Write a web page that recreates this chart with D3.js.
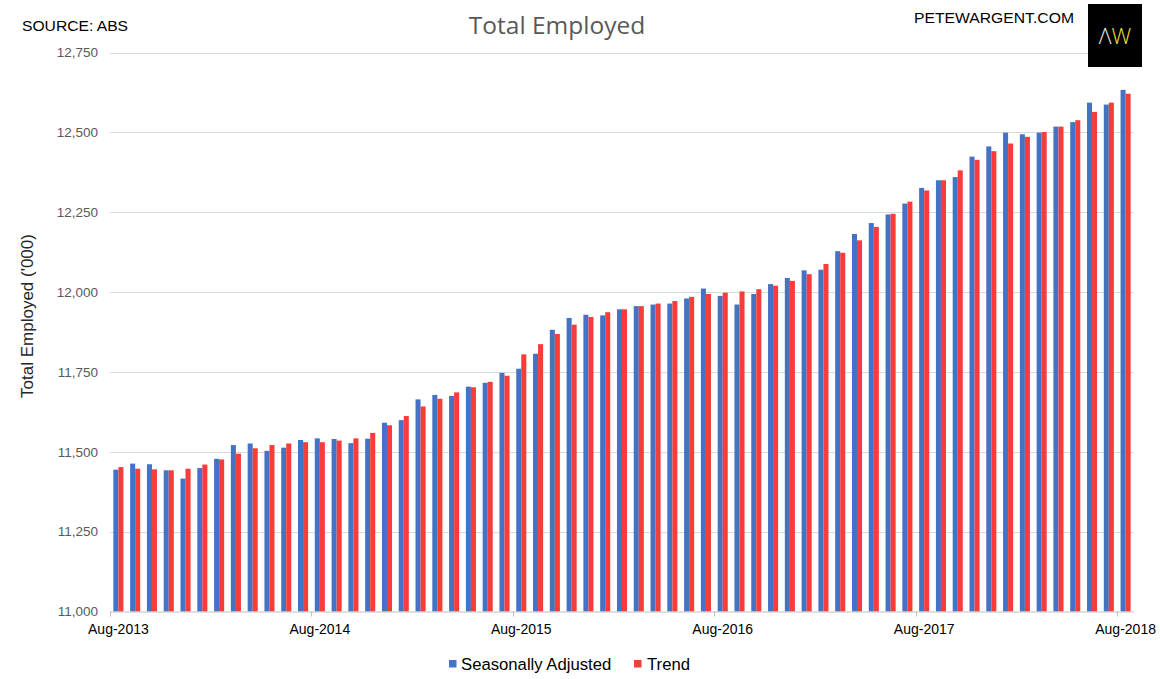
<!DOCTYPE html>
<html>
<head>
<meta charset="utf-8">
<script src="https://cdn.jsdelivr.net/npm/d3@7"></script>
<style>
  html, body { margin: 0; padding: 0; background: #fff; }
  svg { display: block; }
</style>
</head>
<body>
<svg id="chart" width="1160" height="679"></svg>
<script>
// ---- Data ----
const categories = [
  "Aug-2013","Sep-2013","Oct-2013","Nov-2013","Dec-2013",
  "Jan-2014","Feb-2014","Mar-2014","Apr-2014","May-2014","Jun-2014","Jul-2014",
  "Aug-2014","Sep-2014","Oct-2014","Nov-2014","Dec-2014",
  "Jan-2015","Feb-2015","Mar-2015","Apr-2015","May-2015","Jun-2015","Jul-2015",
  "Aug-2015","Sep-2015","Oct-2015","Nov-2015","Dec-2015",
  "Jan-2016","Feb-2016","Mar-2016","Apr-2016","May-2016","Jun-2016","Jul-2016",
  "Aug-2016","Sep-2016","Oct-2016","Nov-2016","Dec-2016",
  "Jan-2017","Feb-2017","Mar-2017","Apr-2017","May-2017","Jun-2017","Jul-2017",
  "Aug-2017","Sep-2017","Oct-2017","Nov-2017","Dec-2017",
  "Jan-2018","Feb-2018","Mar-2018","Apr-2018","May-2018","Jun-2018","Jul-2018",
  "Aug-2018"
];
const seasonallyAdjusted = [
  11444, 11463, 11461, 11442, 11416,
  11449, 11478, 11521, 11526, 11503, 11513, 11537,
  11542, 11540, 11527, 11541, 11591,
  11599, 11664, 11678, 11675, 11704, 11716, 11747,
  11760, 11807, 11882, 11919, 11929,
  11927, 11946, 11956, 11961, 11964, 11980, 12011,
  11988, 11961, 11994, 12025, 12044,
  12068, 12070, 12128, 12182, 12216, 12243, 12277,
  12326, 12350, 12360, 12424, 12456,
  12499, 12494, 12499, 12518, 12532, 12593, 12587,
  12633
];
const trend = [
  11452, 11447, 11445, 11442, 11447,
  11460, 11476, 11494, 11511, 11521, 11526, 11530,
  11530, 11535, 11542, 11559, 11583,
  11612, 11642, 11666, 11686, 11702, 11719, 11738,
  11805, 11837, 11869, 11898, 11922,
  11937, 11946, 11956, 11964, 11972, 11985, 11994,
  11998, 12002, 12009, 12020, 12035,
  12056, 12088, 12123, 12162, 12204, 12245, 12283,
  12318, 12350, 12381, 12414, 12441,
  12465, 12486, 12501, 12518, 12538, 12564, 12593,
  12621
];
const seriesNames = ["Seasonally Adjusted", "Trend"];
const seriesColors = ["#4472C4", "#F83B3B"];
const yTicks = [11000, 11250, 11500, 11750, 12000, 12250, 12500, 12750];
const xTickLabels = ["Aug-2013", "Aug-2014", "Aug-2015", "Aug-2016", "Aug-2017", "Aug-2018"];

// ---- Layout ----
const svg = d3.select("#chart");
const plot = { left: 110, right: 1134, top: 52.5, bottom: 611.5 };

const y = d3.scaleLinear().domain([11000, 12750]).range([plot.bottom, plot.top]);
const x0 = d3.scaleBand().domain(categories).range([plot.left, plot.right])
  .paddingInner(0.4).paddingOuter(0.2);
const x1 = d3.scaleBand().domain(seriesNames).range([0, x0.bandwidth()]);
const color = d3.scaleOrdinal().domain(seriesNames).range(seriesColors);

const rows = categories.map((c, i) => ({
  cat: c,
  values: [
    { name: seriesNames[0], value: seasonallyAdjusted[i] },
    { name: seriesNames[1], value: trend[i] }
  ]
}));

// Gridlines
svg.append("g").selectAll("line").data(yTicks.slice(1)).join("line")
  .attr("x1", plot.left).attr("x2", plot.right)
  .attr("y1", d => Math.round(y(d)) + 0.5).attr("y2", d => Math.round(y(d)) + 0.5)
  .attr("stroke", "#d9d9d9").attr("stroke-width", 1);

// Y-axis labels
const yAxis = d3.axisLeft(y).tickValues(yTicks).tickSize(0).tickPadding(0)
  .tickFormat(d3.format(","));
const gy = svg.append("g").attr("transform", `translate(98,0)`).call(yAxis);
gy.select(".domain").remove();
gy.selectAll("text").attr("fill", "#595959")
  .style("font-family", "Liberation Sans, Arial, sans-serif").style("font-size", "13.5px");

// Bars
svg.append("g").selectAll("g").data(rows).join("g")
  .attr("transform", d => `translate(${x0(d.cat)},0)`)
  .selectAll("rect").data(d => d.values).join("rect")
  .attr("x", d => x1(d.name))
  .attr("width", x1.bandwidth())
  .attr("y", d => y(d.value))
  .attr("height", d => y(11000) - y(d.value))
  .attr("fill", d => color(d.name));

// X axis
const xAxis = d3.axisBottom(x0).tickValues(xTickLabels).tickSize(0).tickSizeOuter(0).tickPadding(13);
const gx = svg.append("g").attr("transform", `translate(0,${plot.bottom})`).call(xAxis);
gx.select(".domain").attr("stroke", "#bfbfbf").attr("d", `M${plot.left},0.5H${plot.right}`);
gx.selectAll("text").attr("fill", "#000")
  .style("font-family", "Liberation Sans, Arial, sans-serif").style("font-size", "14px");
// Tick marks at category boundaries
svg.append("g").selectAll("line").data(xTickLabels).join("line")
  .attr("x1", d => Math.round(x0(d) - x0.step() * x0.paddingOuter()) + 0.5)
  .attr("x2", d => Math.round(x0(d) - x0.step() * x0.paddingOuter()) + 0.5)
  .attr("y1", plot.bottom).attr("y2", plot.bottom + 5)
  .attr("stroke", "#bfbfbf");

// Y-axis title
svg.append("text")
  .attr("transform", `translate(33,316) rotate(-90)`)
  .attr("text-anchor", "middle")
  .attr("fill", "#262626")
  .style("font-family", "Liberation Sans, Arial, sans-serif").style("font-size", "17px")
  .text("Total Employed ('000)");

// Title
svg.append("text").attr("x", 557).attr("y", 34).attr("text-anchor", "middle")
  .attr("fill", "#595959")
  .style("font-family", "Open Sans, sans-serif").style("font-size", "24.5px")
  .text("Total Employed");

// Source
svg.append("text").attr("x", 22).attr("y", 31)
  .attr("fill", "#000")
  .style("font-family", "Liberation Sans, Arial, sans-serif").style("font-size", "14.5px")
  .attr("textLength", 106).attr("lengthAdjust", "spacingAndGlyphs")
  .text("SOURCE: ABS");

// Site
svg.append("text").attr("x", 914).attr("y", 23)
  .attr("fill", "#000")
  .style("font-family", "Liberation Sans, Arial, sans-serif").style("font-size", "15px")
  .attr("textLength", 160).attr("lengthAdjust", "spacingAndGlyphs")
  .text("PETEWARGENT.COM");

// Logo
svg.append("rect").attr("x", 1088).attr("y", 4).attr("width", 54).attr("height", 63).attr("fill", "#000");
const logo = svg.append("text").attr("x", 1115).attr("y", 44).attr("text-anchor", "middle")
  .style("font-family", "Open Sans, sans-serif").style("font-size", "22px").style("font-weight", "300");
logo.append("tspan").attr("fill", "#e6e6e6").text("Λ");
logo.append("tspan").attr("fill", "#e8e43c").text("W");

// Legend
const legendItems = [
  { name: seriesNames[0], sx: 449, tx: 461 },
  { name: seriesNames[1], sx: 634, tx: 647 }
];
const lg = svg.append("g");
lg.selectAll("rect").data(legendItems).join("rect")
  .attr("x", d => d.sx).attr("y", 660).attr("width", 7.5).attr("height", 7.5)
  .attr("fill", d => color(d.name));
lg.selectAll("text").data(legendItems).join("text")
  .attr("x", d => d.tx).attr("y", 669.5)
  .attr("fill", "#000")
  .style("font-family", "Liberation Sans, Arial, sans-serif").style("font-size", "16.7px")
  .text(d => d.name);
</script>
</body>
</html>
